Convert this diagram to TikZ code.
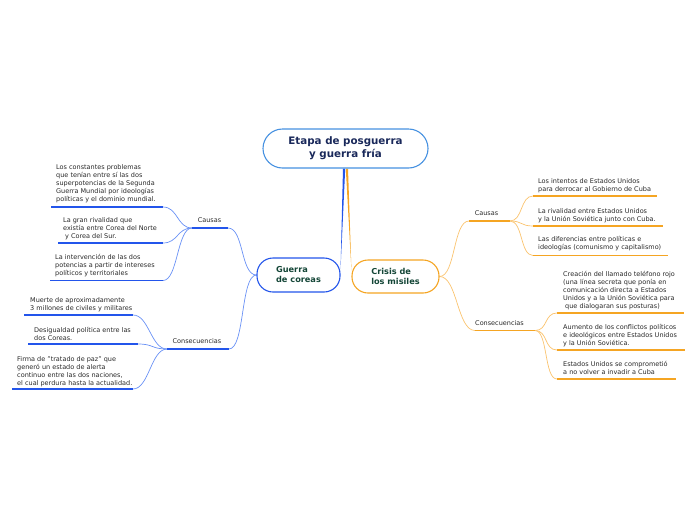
\documentclass[tikz,border=0pt]{standalone}
\usepackage{fontspec}
\setmainfont{DejaVu Sans}
\usetikzlibrary{positioning, backgrounds, calc}
\definecolor{mapsky}{RGB}{70,145,225}
\definecolor{mapnavy}{RGB}{25,40,90}
\definecolor{mapblue}{RGB}{35,85,235}
\definecolor{maplightblue}{RGB}{105,145,245}
\definecolor{mapgreen}{RGB}{20,70,55}
\definecolor{maporange}{RGB}{245,165,35}
\definecolor{maplightorange}{RGB}{250,195,110}
\definecolor{mapgrey}{RGB}{40,40,40}
\tikzset{
    rootstyle/.style={rectangle, rounded corners=19.5pt, draw=mapsky, fill=white, line width=1.1pt, minimum width=165pt, minimum height=39pt, align=center, font=\fontsize{10.3}{13}\selectfont\bfseries, text=mapnavy},
    mainblue/.style={rectangle, rounded corners=16pt, draw=mapblue, fill=white, line width=1.1pt, minimum width=83pt, minimum height=34pt, align=left, font=\fontsize{8.2}{10}\selectfont\bfseries, text=mapgreen},
    mainorange/.style={rectangle, rounded corners=16pt, draw=maporange, fill=white, line width=1.1pt, minimum width=87pt, minimum height=33pt, align=left, font=\fontsize{8.2}{10}\selectfont\bfseries, text=mapgreen},
    branchlbl/.style={font=\fontsize{6.5}{8}\selectfont, text=mapgrey, inner sep=0pt},
    leaftxt/.style={anchor=north west, align=left, font=\fontsize{6.5}{8}\selectfont, text=mapgrey, inner sep=0pt},
    ulblue/.style={line width=1.6pt, color=mapblue},
    ulorange/.style={line width=1.6pt, color=maporange},
    linkblue/.style={line width=0.7pt, color=maplightblue},
    linkorange/.style={line width=0.7pt, color=maplightorange}
}

\begin{document}
\begin{tikzpicture}[x=1pt, y=-1pt]
    \useasboundingbox (0,0) rectangle (696,520);

    % Central topic and main branches
    \node[rootstyle] (root) at (345.5,148.5) {Etapa de posguerra\\y guerra fría};
    \node[mainblue] (guerra) at (298.5,275) {Guerra\\de coreas};
    \node[mainorange] (crisis) at (395.5,276.5) {Crisis de\\los misiles};

    % Guerra de coreas: sub-topics
    \node[branchlbl] (gcaus) at (209.5,220) {Causas};
    \coordinate (gcaus-l) at (192,228);
    \coordinate (gcaus-r) at (228,228);
    \node[branchlbl] (gcons) at (197,341) {Consecuencias};
    \coordinate (gcons-l) at (167,349);
    \coordinate (gcons-r) at (229,349);

    % Guerra de coreas: causas
    \node[leaftxt] (gca1) at (56,164) {Los constantes problemas\\que tenían entre sí las dos\\superpotencias de la Segunda\\Guerra Mundial por ideologías\\políticas y el dominio mundial.};
    \coordinate (gca1-l) at (51,207);
    \coordinate (gca1-r) at (163,207);
    \node[leaftxt] (gca2) at (63,217) {La gran rivalidad que\\existía entre Corea del Norte\\\hspace{2pt}y Corea del Sur.};
    \coordinate (gca2-l) at (58,243);
    \coordinate (gca2-r) at (163,243);
    \node[leaftxt] (gca3) at (55,254) {La intervención de las dos\\potencias a partir de intereses\\políticos y territoriales};
    \coordinate (gca3-l) at (50,280.5);
    \coordinate (gca3-r) at (163,280.5);

    % Guerra de coreas: consecuencias
    \node[leaftxt] (gco1) at (30,297) {Muerte de aproximadamente\\3 millones de civiles y militares};
    \coordinate (gco1-l) at (24,315);
    \coordinate (gco1-r) at (133,315);
    \node[leaftxt] (gco2) at (34,327) {Desigualdad política entre las\\dos Coreas.};
    \coordinate (gco2-l) at (28,344);
    \coordinate (gco2-r) at (138,344);
    \node[leaftxt] (gco3) at (17,356) {Firma de "tratado de paz" que\\generó un estado de alerta\\continuo entre las dos naciones,\\el cual perdura hasta la actualidad.};
    \coordinate (gco3-l) at (12,389);
    \coordinate (gco3-r) at (133,389);

    % Crisis de los misiles: sub-topics
    \node[branchlbl] (ccaus) at (486.5,213) {Causas};
    \coordinate (ccaus-l) at (469,221);
    \coordinate (ccaus-r) at (510,221);
    \node[branchlbl] (ccons) at (499.5,323) {Consecuencias};
    \coordinate (ccons-l) at (475,330.5);
    \coordinate (ccons-r) at (535,330.5);

    % Crisis de los misiles: causas
    \node[leaftxt] (cca1) at (538,178) {Los intentos de Estados Unidos\\para derrocar al Gobierno de Cuba};
    \coordinate (cca1-l) at (533,196);
    \coordinate (cca1-r) at (657,196);
    \node[leaftxt] (cca2) at (538,208) {La rivalidad entre Estados Unidos\\y la Unión Soviética junto con Cuba.};
    \coordinate (cca2-l) at (533,226);
    \coordinate (cca2-r) at (663,226);
    \node[leaftxt] (cca3) at (538,236) {Las diferencias entre políticas e\\ideologías (comunismo y capitalismo)};
    \coordinate (cca3-l) at (533,255.5);
    \coordinate (cca3-r) at (668,255.5);

    % Crisis de los misiles: consecuencias
    \node[leaftxt] (cco1) at (563,271) {Creación del llamado teléfono rojo\\(una línea secreta que ponía en\\comunicación directa a Estados\\Unidos y a la Unión Soviética para\\\hspace{2pt}que dialogaran sus posturas)};
    \coordinate (cco1-l) at (557,313);
    \coordinate (cco1-r) at (684,313);
    \node[leaftxt] (cco2) at (563,324.5) {Aumento de los conflictos políticos\\e ideológicos entre Estados Unidos\\y la Unión Soviética.};
    \coordinate (cco2-l) at (557,350);
    \coordinate (cco2-r) at (685,350);
    \node[leaftxt] (cco3) at (563,361) {Estados Unidos se comprometió\\a no volver a invadir a Cuba};
    \coordinate (cco3-l) at (557,379);
    \coordinate (cco3-r) at (676,379);

    % Underlines
    \foreach \n in {gcaus,gcons,gca1,gca2,gca3,gco1,gco2,gco3}
        \draw[ulblue] (\n-l) -- (\n-r);
    \foreach \n in {ccaus,ccons,cca1,cca2,cca3,cco1,cco2,cco3}
        \draw[ulorange] (\n-l) -- (\n-r);

    % Connectors
    \begin{scope}[on background layer]
        \fill[mapblue] ($(root.south)+(-2.5,0)$) -- ($(root.south)+(-0.3,0)$) -- ($(guerra.east)+(0,-6)$) -- cycle;
        \fill[maporange] ($(root.south)+(0.3,0)$) -- ($(root.south)+(2.5,0)$) -- ($(crisis.west)+(0,-6)$) -- cycle;
        \draw[linkblue] (guerra.west) .. controls +(-16,0) and +(16,0) .. (gcaus-r);
        \draw[linkblue] (guerra.west) .. controls +(-16,0) and +(16,0) .. (gcons-r);
        \foreach \n in {gca1,gca2,gca3}
            \draw[linkblue] (gcaus-l) .. controls +(-15,0) and +(15,0) .. (\n-r);
        \foreach \n in {gco1,gco2,gco3}
            \draw[linkblue] (gcons-l) .. controls +(-16,0) and +(16,0) .. (\n-r);
        \draw[linkorange] (crisis.east) .. controls +(16,0) and +(-16,0) .. (ccaus-l);
        \draw[linkorange] (crisis.east) .. controls +(18,0) and +(-18,0) .. (ccons-l);
        \foreach \n in {cca1,cca2,cca3}
            \draw[linkorange] (ccaus-r) .. controls +(13,0) and +(-13,0) .. (\n-l);
        \foreach \n in {cco1,cco2,cco3}
            \draw[linkorange] (ccons-r) .. controls +(13,0) and +(-13,0) .. (\n-l);
    \end{scope}
\end{tikzpicture}
\end{document}
